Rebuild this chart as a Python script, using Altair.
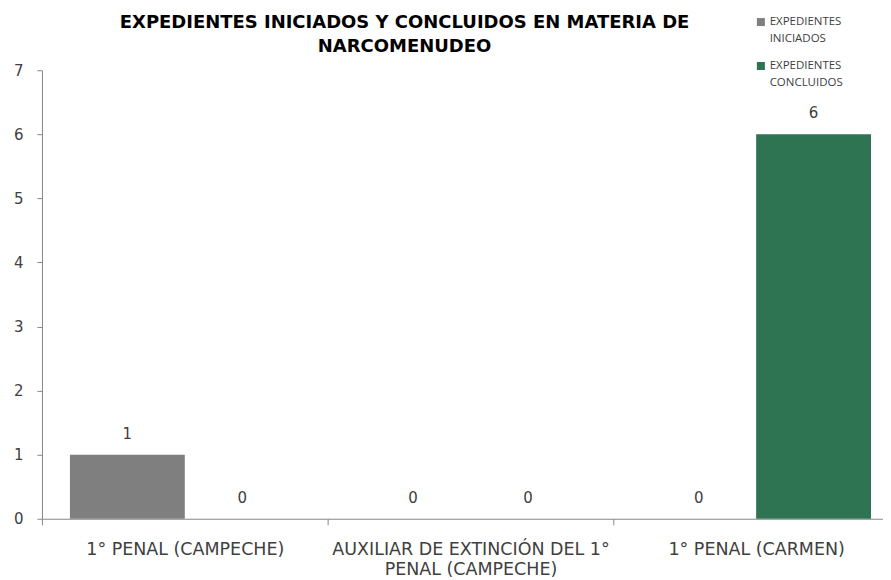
import altair as alt
import pandas as pd

categories = ["1° PENAL (CAMPECHE)", "AUXILIAR DE EXTINCIÓN DEL 1°\nPENAL (CAMPECHE)", "1° PENAL (CARMEN)"]
series = ["EXPEDIENTES\nINICIADOS", "EXPEDIENTES\nCONCLUIDOS"]
iniciados = [1, 0, 0]
concluidos = [0, 0, 6]
colors = ["#7F7F7F", "#2E7352"]
y_ticks = [0, 1, 2, 3, 4, 5, 6, 7]
title_lines = ["EXPEDIENTES INICIADOS Y CONCLUIDOS EN MATERIA DE", "NARCOMENUDEO"]

rows = []
for i, c in enumerate(categories):
    rows.append({"cat": c, "serie": series[0], "valor": iniciados[i]})
    rows.append({"cat": c, "serie": series[1], "valor": concluidos[i]})
df = pd.DataFrame(rows)

FONT = "DejaVu Sans"
LFONT = "Open Sans"
TXT = "#404040"
AX = "#868686"

base = alt.Chart(df).encode(
    x=alt.X("cat:N", sort=categories,
            scale=alt.Scale(paddingInner=0, paddingOuter=0),
            axis=alt.Axis(title=None, labelAngle=0, labelExpr="split(datum.label, '\\n')",
                          tickBand="extent", labelFontSize=17.5, labelColor=TXT, labelFont=FONT,
                          labelPadding=16, labelLineHeight=20, labelLimit=400, domainColor=AX,
                          tickColor=AX, tickSize=6, grid=False)),
    xOffset=alt.XOffset("serie:N", sort=series,
                        scale=alt.Scale(paddingInner=0, paddingOuter=0.2435)),
)

bars = base.mark_bar().encode(
    y=alt.Y("valor:Q", scale=alt.Scale(domain=[0, 7], nice=False),
            axis=alt.Axis(title=None, values=y_ticks, format="d", labelFontSize=15, labelColor=TXT,
                          labelFont=FONT, labelPadding=14, tickSize=5, domainColor=AX,
                          tickColor=AX, grid=False)),
    color=alt.Color("serie:N", sort=series,
                    scale=alt.Scale(domain=series, range=colors),
                    legend=alt.Legend(title=None, orient="none", legendX=714, legendY=-54,
                                      labelExpr="split(datum.label, '\\n')",
                                      labelFontSize=11.5, labelColor=TXT, labelFont=LFONT,
                                      labelLimit=200, symbolType="square", symbolSize=64,
                                      symbolStrokeWidth=0, rowPadding=14, padding=0,
                                      labelOffset=3)),
)

labels = base.mark_text(baseline="alphabetic", dy=-16, fontSize=15, color=TXT, font=FONT).encode(
    y=alt.Y("valor:Q"),
    text=alt.Text("valor:Q"),
)

chart = alt.layer(bars, labels).properties(
    width=858, height=449,
    padding={"left": 5, "top": 6, "right": -17, "bottom": 0},
    title=alt.TitleParams(text=title_lines, fontSize=18, font=FONT, fontWeight="bold",
                          color="#000000", anchor="middle", frame="group", dx=-66, dy=46,
                          lineHeight=24, offset=6),
).configure(
    view=alt.ViewConfig(stroke=None),
    style={"guide-label": {"lineHeight": 17}},
)

chart.save("out.html", embed_options={"renderer": "svg", "actions": False})
